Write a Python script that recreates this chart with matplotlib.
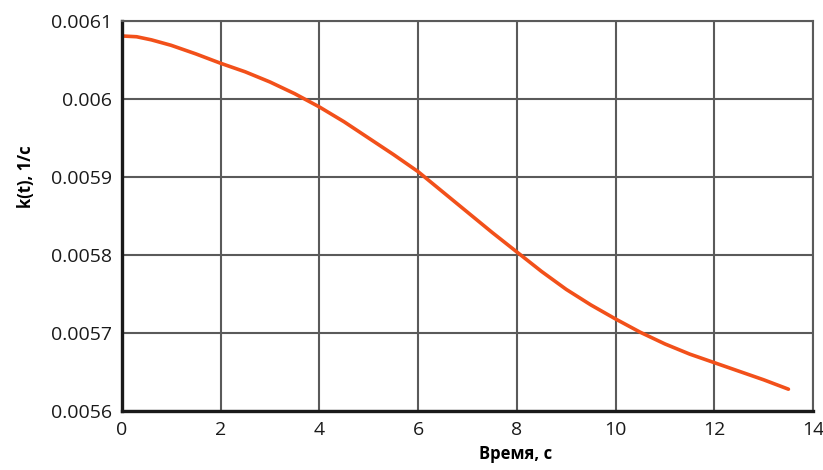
import matplotlib.pyplot as plt

# values
t = [0.0, 0.3, 0.6, 1.0, 1.5, 2.0, 2.5, 3.0, 3.5, 4.0, 4.5, 5.0, 5.5, 6.0, 6.5, 7.0,
     7.5, 8.0, 8.5, 9.0, 9.5, 10.0, 10.5, 11.0, 11.5, 12.0, 12.5, 13.0, 13.5]
k = [0.006081, 0.006080, 0.006076, 0.006069, 0.006058, 0.006046, 0.006035, 0.006022,
     0.006007, 0.005990, 0.005971, 0.005950, 0.005929, 0.005907, 0.005881, 0.005855,
     0.005829, 0.005804, 0.005779, 0.005756, 0.005736, 0.005718, 0.005701, 0.005686,
     0.005673, 0.005662, 0.005651, 0.005640, 0.005628]
xticks = [0, 2, 4, 6, 8, 10, 12, 14]
yticks = [0.0056, 0.0057, 0.0058, 0.0059, 0.006, 0.0061]
ytick_labels = ['0.0056', '0.0057', '0.0058', '0.0059', '0.006', '0.0061']

plt.rcParams['font.family'] = ['Open Sans', 'DejaVu Sans']

fig = plt.figure(figsize=(8.23, 4.70), dpi=100)
ax = fig.add_axes([0.148, 0.1255, 0.84, 0.8295])

ax.plot(t, k, color='#F2501A', lw=2.6, solid_capstyle='round', solid_joinstyle='round')

ax.set_xlim(0, 14)
ax.set_ylim(0.0056, 0.0061)
ax.set_xticks(xticks)
ax.set_yticks(yticks)
ax.set_yticklabels(ytick_labels)
ax.grid(True, color='#5a5a5a', lw=1.5)
ax.set_axisbelow(True)
for s in ['top', 'right']:
    ax.spines[s].set_color('#5a5a5a')
    ax.spines[s].set_linewidth(1.5)
for s in ['left', 'bottom']:
    ax.spines[s].set_color('#1a1a1a')
    ax.spines[s].set_linewidth(2.4)
ax.tick_params(length=0, labelsize=14, pad=7, colors='#1a1a1a')
ax.set_xlabel('Время, с', fontsize=12, fontweight='bold')
ax.xaxis.set_label_coords(0.57, -0.088)
ax.set_ylabel('k(t), 1/c', fontsize=12, fontweight='bold')
ax.yaxis.set_label_coords(-0.125, 0.6)

fig.savefig('out.png', dpi=100)
